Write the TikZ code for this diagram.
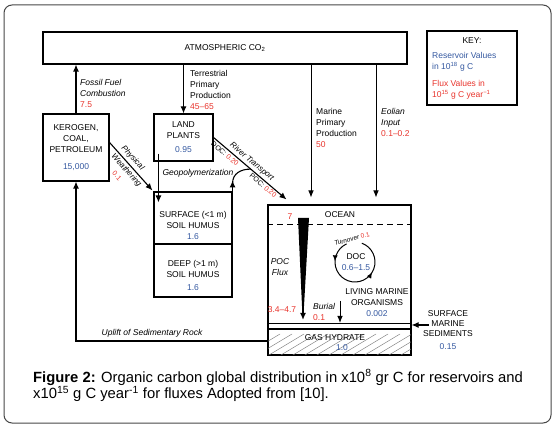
\documentclass[tikz,border=0pt]{standalone}
\usepackage{fontspec}
\setmainfont{Liberation Sans}
\usetikzlibrary{arrows.meta, positioning, calc, decorations.markings}
\definecolor{fluxred}{RGB}{232,52,44}
\definecolor{resblue}{RGB}{52,88,160}
\definecolor{framegray}{RGB}{70,70,70}
\newcommand{\lblfont}{\fontsize{8.5}{11}\selectfont}
\newcommand{\smallfont}{\fontsize{7}{8}\selectfont}
\newcommand{\capfont}{\fontsize{14.8}{17}\selectfont}
\tikzset{
  box/.style={draw, line width=1.1pt, inner sep=0pt, font=\lblfont, align=center},
  lbl/.style={font=\lblfont, align=left, inner sep=0pt},
  arr/.style={-{Latex[length=7pt,width=6pt]}, line width=1.1pt},
  thinarr/.style={-{Latex[length=7pt,width=5.5pt]}, line width=0.7pt},
  flux/.style={text=fluxred},
  res/.style={text=resblue},
}

\begin{document}
\begin{tikzpicture}[x=1pt, y=-1pt]
    \useasboundingbox (0,0) rectangle (554,427);
    % Frame
    \draw[framegray, line width=1pt, rounded corners=8pt] (4,5) rectangle (551,423);
    % Reservoirs
    \node[box, minimum width=364pt, minimum height=32pt] (atm) at (225,48) {ATMOSPHERIC CO\textsubscript{2}};
    \node[box, minimum width=66pt, minimum height=67pt] (kero) at (76,147.5)
        {KEROGEN,\\COAL,\\PETROLEUM\\[6pt]\textcolor{resblue}{15,000}};
    \node[box, minimum width=59pt, minimum height=47pt] (plants) at (183.5,137.5)
        {LAND\\PLANTS\\[3pt]\textcolor{resblue}{0.95}};
    \node[box, minimum width=78pt, minimum height=52pt] (surf) at (193,218) {};
    \node[box, minimum width=78pt, minimum height=53pt] (deep) at (193,270.5) {};
    \node[lbl, align=center] (surftxt) at (193,225) {SURFACE (<1 m)\\SOIL HUMUS\\\textcolor{resblue}{1.6}};
    \node[lbl, align=center] (deeptxt) at (193,275.5) {DEEP (>1 m)\\SOIL HUMUS\\[2pt]\textcolor{resblue}{1.6}};
    \node[box, minimum width=143pt, minimum height=150pt] (ocean) at (339.5,280) {};
    % Key
    \node[box, line width=1.5pt, minimum width=90pt, minimum height=74pt] (key) at (472,68) {};
    \node[lbl] (keyhead) at (472,41) {KEY:};
    \node[lbl, res, anchor=west, font=\fontsize{8.5}{10.5}\selectfont] (keyres) at (432,62)
        {Reservoir Values\\in 10\textsuperscript{18} g C};
    \node[lbl, flux, anchor=west, font=\fontsize{8.5}{10.5}\selectfont] (keyflux) at (432,90)
        {Flux Values in\\10\textsuperscript{15} g C year\textsuperscript{−1}};
    % Sediment layers
    \begin{scope}
        \clip (268,323) rectangle (411,355);
        \foreach \i in {0,12,...,180} {
            \draw[gray, line width=0.5pt] (240+\i,358) -- ++(40,-24);
        }
    \end{scope}
    \draw[line width=0.6pt] (268,323) -- (411,323);
    \draw[line width=1.1pt] (268,329) -- (411,329);
    \draw[line width=1.1pt] (ocean.south west) rectangle (ocean.north east);
    \node[lbl] (gas) at (335,338) {GAS HYDRATE};
    \node[lbl, res] (gasval) at (342,348) {1.0};
    % Ocean inside
    \draw[line width=1.1pt, dash pattern=on 6pt off 4pt] ([yshift=-20pt]ocean.north west) -- ([yshift=-20pt]ocean.north east);
    \node[lbl] (oceanlbl) at (340,215) {OCEAN};
    \node[lbl, flux] (surfflux) at (290,217) {7};
    \fill (298,218) -- (309,218) -- (304,306) -- (302,306) -- cycle;
    \draw[arr, line width=1.6pt] (303,300) -- (303,320);
    \node[lbl, align=center, font=\lblfont\itshape] (poc) at (280,267.5) {POC\\Flux};
    \node[lbl, flux] (pocval) at (282,310) {3.4--4.7};
    \node[lbl, anchor=west] (burial) at (313,311.5) {\textit{Burial}\\\textcolor{fluxred}{0.1}};
    \coordinate (burtop) at (340,301);
    \coordinate (sedtop) at (0,323);
    \draw[thinarr, line width=0.9pt] (burtop) -- (burtop |- sedtop);
    % DOC loop
    \draw[line width=1pt, postaction={decorate}, decoration={markings,
        mark=at position 0.2 with {\arrow{Latex[length=6pt,width=5pt]}},
        mark=at position 0.68 with {\arrow{Latex[length=6pt,width=5pt]}}}]
        (355,262) ++(245:20) arc[start angle=245, end angle=-70, radius=20];
    \node[lbl, rotate=15, font=\fontsize{6.5}{7}\selectfont\itshape] (turn) at (352,239) {Turnover \textcolor{fluxred}{\upshape 0.1}};
    \node[lbl, align=center] (doc) at (356,262.5) {DOC\\\textcolor{resblue}{0.6--1.5}};
    \node[lbl, align=center] (living) at (377,302.5) {LIVING MARINE\\ORGANISMS\\\textcolor{resblue}{0.002}};
    % Marine sediments
    \node[lbl, align=center, font=\fontsize{8.5}{10}\selectfont] (sed) at (448,330.5) {SURFACE\\MARINE\\SEDIMENTS\\[3pt]\textcolor{resblue}{0.15}};
    \coordinate (sedstart) at (429,325);
    \draw[arr] (sedstart) -- (sedstart -| ocean.east);
    % Fluxes from the atmosphere
    \draw[arr] (kero.north) -- (kero.north |- atm.south);
    \node[lbl, anchor=west] (fossil) at (80,93) {\textit{Fossil Fuel}\\\textit{Combustion}\\\textcolor{fluxred}{7.5}};
    \draw[arr] (plants.north |- atm.south) -- (plants.north);
    \node[lbl, anchor=west] (terr) at (190,89.5) {Terrestrial\\Primary\\Production\\\textcolor{fluxred}{45--65}};
    \coordinate (mppx) at (311,0);
    \coordinate (eolx) at (376,0);
    \draw[thinarr, shorten >=7pt] (atm.south -| mppx) -- (ocean.north -| mppx);
    \node[lbl, anchor=west] (mpp) at (316,127.5) {Marine\\Primary\\Production\\\textcolor{fluxred}{50}};
    \draw[thinarr, shorten >=7pt] (atm.south -| eolx) -- (ocean.north -| eolx);
    \node[lbl, anchor=west] (eol) at (381,122.5) {\textit{Eolian}\\\textit{Input}\\\textcolor{fluxred}{0.1--0.2}};
    % Land fluxes
    \draw[arr] ([shift={(5pt,8pt)}]plants.south west) -- ([shift={(5pt,-11pt)}]surf.north west);
    \draw[arr] ([yshift=5pt]kero.east) -- ([shift={(-1pt,1pt)}]surf.north west)
        node[pos=0.42, rotate=-48, anchor=south, inner sep=2.5pt, font=\fontsize{8}{9}\selectfont\itshape] (phys) {Physical}
        node[pos=0.5, rotate=-48, anchor=north, inner sep=2pt, font=\fontsize{8}{9}\selectfont\itshape] (weath) {Weathering};
    \node[lbl, flux, rotate=-48, font=\smallfont] (weathval) at (117,176) {0.1};
    \coordinate (rivend) at ([shift={(19pt,5pt)}]ocean.north west);
    \draw[arr] (plants.east) -- (rivend)
        node[pos=0.47, rotate=-40, anchor=south, inner sep=2pt, font=\fontsize{8}{9}\selectfont\itshape] (river) {River Transport}
        node[pos=0.2, rotate=-40, anchor=north, inner sep=2pt, font=\smallfont] (docriv) {DOC: \textcolor{fluxred}{0.20}}
        node[pos=0.72, rotate=-40, anchor=north, inner sep=1.5pt, font=\smallfont] (pocriv) {POC: \textcolor{fluxred}{0.20}};
    \coordinate (rivjoin) at ($(plants.east)!0.51!(rivend)$);
    \draw[arr] (surf.north east) -- ++(0,-11);
    \draw[line width=1.1pt] ([yshift=8pt]surf.north east) .. controls +(0,-10) and +(-10,0) .. (rivjoin);
    \node[lbl, font=\lblfont\itshape] (geo) at (198,173) {Geopolymerization};
    % Uplift
    \coordinate (upl) at (0,341);
    \draw[arr] (ocean.west |- upl) -| (kero.south);
    \node[lbl, font=\lblfont\itshape] (uplift) at (152,333) {Uplift of Sedimentary Rock};
    % Caption
    \node[anchor=base west, font=\capfont, inner sep=0pt] (cap1) at (33,382)
        {\textbf{Figure 2:} Organic carbon global distribution in x10\textsuperscript{8} gr C for reservoirs and};
    \node[anchor=base west, font=\capfont, inner sep=0pt] (cap2) at (33,399)
        {x10\textsuperscript{15} g C year\textsuperscript{-1} for fluxes Adopted from [10].};
\end{tikzpicture}
\end{document}
